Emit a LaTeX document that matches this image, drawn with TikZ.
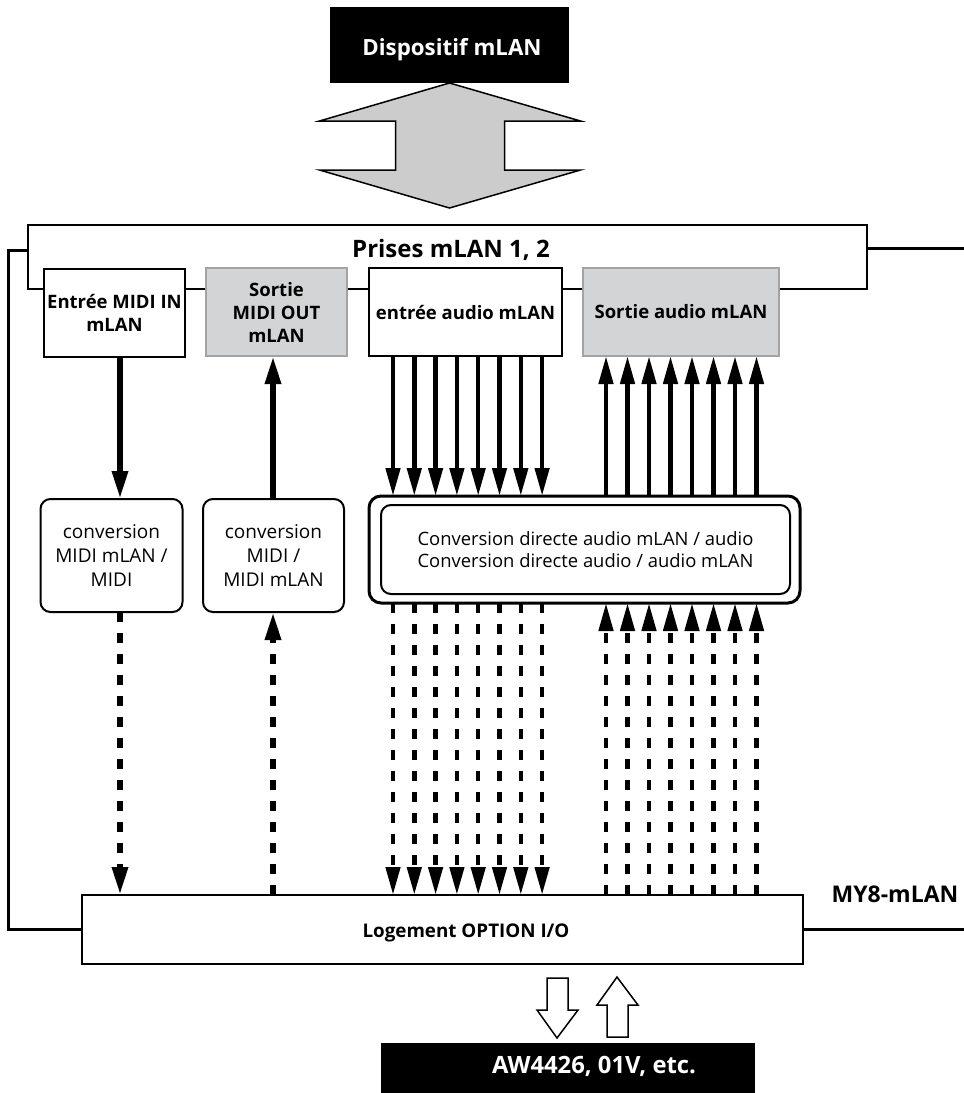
\documentclass[tikz,border=0pt]{standalone}
\usepackage{fontspec}
\setsansfont[Ligatures=NoCommon]{Open Sans}
\usetikzlibrary{arrows.meta,calc}
\definecolor{boxgrey}{HTML}{D3D4D6}
\definecolor{edgegrey}{HTML}{A3A3A3}
\definecolor{linkgrey}{HTML}{CCCCCC}

\begin{document}
\begin{tikzpicture}[
  x=1pt,y=-1pt,
  every node/.style={font=\sffamily},
  jack/.style={draw,line width=2pt,fill=white,inner sep=0pt,outer sep=0pt,align=center,minimum width=141pt,minimum height=88pt,font=\sffamily\bfseries\fontsize{18.5}{23}\selectfont},
  jackout/.style={jack,fill=boxgrey,draw=edgegrey},
  convbox/.style={draw,line width=2pt,rounded corners=10pt,inner sep=0pt,outer sep=0pt,align=center,minimum width=142pt,minimum height=113pt,font=\sffamily\fontsize{19}{24}\selectfont},
  blackbox/.style={fill=black,inner sep=0pt,outer sep=0pt},
  frame/.style={line width=3pt},
  midi/.style={line width=6pt,-{Triangle[length=28pt,width=15pt]}},
  audio/.style={line width=4.5pt,-{Triangle[length=28pt,width=14pt]}},
  broken/.style={dash pattern=on 10pt off 11pt},
  hollow/.style={draw,line width=1.5pt,fill=white,line join=miter}
]
\useasboundingbox (0,0) rectangle (964,1093);

% mLAN device and the link to the jacks
\node[blackbox,minimum width=239pt,minimum height=76pt] (dev) at (449.5,45) {};
\node[text=white,font=\sffamily\bfseries\fontsize{22.3}{26}\selectfont] (devlabel) at (452,50) {Dispositif mLAN};
\draw[fill=linkgrey,line width=1.5pt,line join=miter] (dev.south) -- ++(131,38) -- ++(-76,0) -- ++(0,49) -- ++(76,0)
  -- ++(-131,38) -- ++(-130,-38) -- ++(76,0) -- ++(0,-49) -- ++(-76,0) -- cycle;

% jacks
\node[draw,line width=2pt,inner sep=0pt,outer sep=0pt,minimum width=839pt,minimum height=64pt] (prises) at (447.5,257) {};
\node[font=\sffamily\bfseries\fontsize{24}{28}\selectfont] (priseslabel) at (451,250) {Prises mLAN 1, 2};
\node[jack] (midiin) at (114.5,313) {Entrée MIDI IN\\mLAN};
\node[jackout] (midiout) at (276.5,312) {Sortie\\MIDI OUT\\mLAN};
\node[jack,minimum width=193pt] (inaudio) at (465.5,312) {entrée audio mLAN};
\node[jackout,minimum width=196pt] (outaudio) at (681,312) {Sortie audio mLAN};

% conversion
\node[convbox] (tomidi) at (111.5,555.5) {conversion\\MIDI mLAN /\\MIDI};
\node[convbox,minimum width=141pt] (tomlan) at (273.5,555.5) {conversion\\MIDI /\\MIDI mLAN};
\node[convbox,line width=3pt,rounded corners=12pt,minimum width=431pt,minimum height=107pt] (audioframe) at (584.5,549.5) {};
\node[convbox,minimum width=409pt,minimum height=89pt,font=\sffamily\fontsize{18.4}{22}\selectfont] (audioconv) at (585.5,549.5)
  {Conversion directe audio mLAN / audio\\Conversion directe audio / audio mLAN};

% slot and host
\node[draw,line width=1.5pt,inner sep=0pt,outer sep=0pt,minimum width=721pt,minimum height=69pt] (slot) at (442.5,929.5) {};
\node[font=\sffamily\bfseries\fontsize{18.8}{22}\selectfont] (slotlabel) at (466,933) {Logement OPTION I/O};
\node[font=\sffamily\bfseries\fontsize{23}{27}\selectfont] (board) at (895,894) {MY8-mLAN};
\node[blackbox,minimum width=374pt,minimum height=52pt] (host) at (568,1069) {};
\node[text=white,font=\sffamily\bfseries\fontsize{23.8}{28}\selectfont] (hostlabel) at (594,1066) {AW4426, 01V, etc.};

% outer frame
\draw[frame] ([yshift=-25pt]prises.north west) -- ++(-20,0) |- (slot.west);
\draw[frame] ([yshift=-23pt]prises.north east) -- ++(97,0);
\draw[frame] (slot.east) -- ++(161,0);

% MIDI paths
\coordinate (mi) at (120,0);
\coordinate (mo) at (273,0);
\draw[midi] (midiin.south -| mi) -- (tomidi.north -| mi);
\draw[midi,broken] (tomidi.south -| mi) -- (slot.north -| mi);
\draw[midi] (tomlan.north -| mo) -- (midiout.south -| mo);
\draw[midi,broken] (slot.north -| mo) -- (tomlan.south -| mo);

% audio channels
\foreach \i in {0,...,7} {
  \coordinate (in\i) at ({393+21.3*\i},0);
  \coordinate (out\i) at ({606+21.5*\i},0);
  \draw[audio] (inaudio.south -| in\i) -- (audioframe.north -| in\i);
  \draw[audio,broken] (audioframe.south -| in\i) -- (slot.north -| in\i);
  \draw[audio] (audioframe.north -| out\i) -- (outaudio.south -| out\i);
  \draw[audio,broken] (slot.north -| out\i) -- (audioframe.south -| out\i);
}

% host link
\draw[hollow] (557,1038) -- ++(-20,-28) -- ++(10,0) -- ++(0,-32) -- ++(21,0) -- ++(0,32) -- ++(10,0) -- cycle;
\draw[hollow] (617,977) -- ++(21,28) -- ++(-10,0) -- ++(0,32) -- ++(-21,0) -- ++(0,-32) -- ++(-10,0) -- cycle;
\end{tikzpicture}
\end{document}
